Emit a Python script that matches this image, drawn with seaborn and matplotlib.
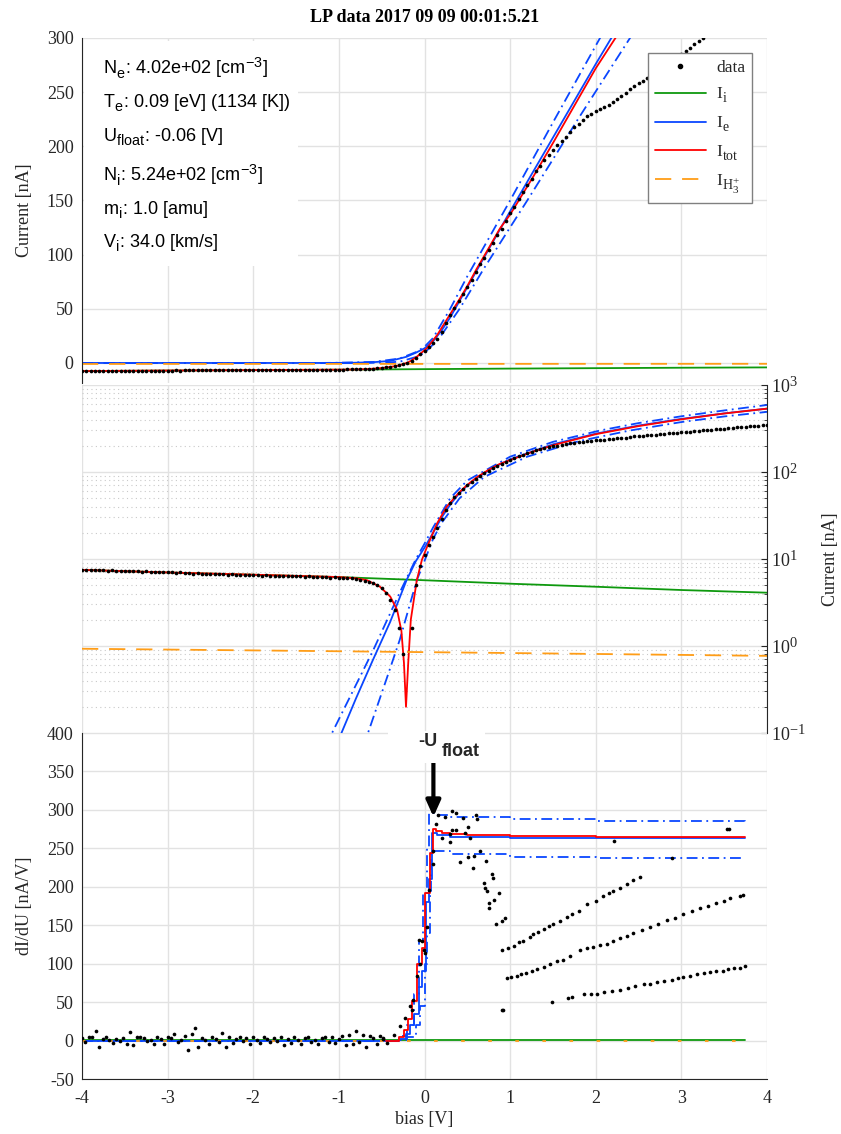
import numpy as np
import matplotlib
matplotlib.use("Agg")
import matplotlib.pyplot as plt
import matplotlib._mathtext as _mt
from matplotlib.lines import Line2D
from matplotlib.patches import Rectangle
from matplotlib.ticker import LogLocator, NullFormatter, MultipleLocator
import seaborn as sns

# ==========================================
# DATA (dibaca dari gambar LP)
# ==========================================
TITLE = "LP data 2017 09 09 00:01:5.21"

# sweep probe: bias [V] dan arus [nA]
DATA_BIAS = np.round(np.arange(161) * 0.05 - 4.0, 2)
DATA_CURRENT = [
    -7.5, -7.5, -7.4, -7.5, -7.4, -7.4, -7.3, -7.4, -7.3, -7.3,
    -7.2, -7.3, -7.2, -7.2, -7.1, -7.2, -7.1, -7.1, -7.0, -7.1,
    -7.0, -7.0, -6.9, -7.0, -6.9, -6.9, -6.8, -6.9, -6.8, -6.8,
    -6.7, -6.8, -6.7, -6.7, -6.6, -6.7, -6.6, -6.6, -6.5, -6.6,
    -6.5, -6.5, -6.4, -6.5, -6.4, -6.4, -6.3, -6.4, -6.3, -6.3,
    -6.3, -6.3, -6.2, -6.3, -6.2, -6.2, -6.2, -6.2, -6.1, -6.2,
    -6.1, -6.1, -6.0, -6.0, -5.9, -5.8, -5.6, -5.5, -5.3, -5.0,
    -4.6, -4.1, -3.4, -2.6, -1.6, -0.8, 0.05, 1.6, 5.0, 8.3,
    11.2, 14.5, 18.0, 22.5, 29, 37, 44, 51, 57, 64,
    70, 77, 84, 91, 97, 104, 111, 118, 124, 131,
    138, 144, 151, 158, 164, 170, 177, 182, 187, 192,
    197, 201, 205, 209, 213, 218, 221, 224, 228, 230,
    233, 234, 236, 238, 241, 244, 246, 249, 253, 256,
    258, 260, 263, 265, 269, 272, 275, 278, 280, 283,
    285, 288, 291, 294, 297, 300, 303, 306, 309, 313,
    316, 319, 322, 325, 328, 332, 335, 338, 341, 344,
    347,
]

# komponen fit [nA]
ION_BIAS = [-4, -3, -2, -1, 0, 1, 2, 3, 4]
ION_CURRENT = [-7.5, -7.0, -6.6, -6.2, -5.7, -5.2, -4.8, -4.4, -4.1]
H3_CURRENT = [-0.93, -0.91, -0.89, -0.87, -0.85, -0.83, -0.81, -0.79, -0.77]

IE_BIAS = [-4.0, -1.3, -1.1, -0.97, -0.8, -0.6, -0.4, -0.21, -0.1, 0.0, 0.1, 0.2,
           0.3, 0.4, 0.5, 0.6, 0.8, 1.0, 1.5, 2.0, 2.5, 3.0, 3.5, 4.0]
IE_CURRENT = [0.0, 0.005, 0.04, 0.1, 0.25, 0.7, 1.9, 5.7, 9.5, 13.5, 20, 30,
              42, 56, 70, 84, 112, 140, 208, 276, 342, 408, 472, 535]

IE_HI_BIAS = [-4.0, -1.3, -1.08, -0.6, -0.29, -0.1, 0.0, 0.1, 0.3, 0.5, 1.0,
              1.5, 2.05, 2.5, 3.0, 3.5, 4.0]
IE_HI_CURRENT = [0.0, 0.02, 0.1, 0.89, 4.1, 10, 15, 23, 50, 80, 150,
                 222, 300, 365, 437, 510, 589]

IE_LO_BIAS = [-4.0, -0.9, -0.66, -0.45, -0.29, -0.09, 0.0, 0.1, 0.2, 0.41, 0.7,
              1.2, 1.8, 2.4, 3.0, 3.5, 4.0]
IE_LO_CURRENT = [0.0, 0.01, 0.1, 0.4, 1.17, 5.7, 9.5, 17, 26, 50, 88,
                 150, 226, 300, 375, 435, 491]

ITOT_BIAS = [-4.0, -3.0, -2.0, -1.0, -0.8, -0.67, -0.52, -0.4, -0.32, -0.27,
             -0.24, -0.216, -0.19, -0.16, -0.09, -0.03, 0.03, 0.15, 0.26, 0.41,
             0.5, 0.61, 0.75, 0.88, 1.0, 1.27, 1.5, 2.0, 2.23, 2.5, 3.0, 3.5, 4.0]
ITOT_CURRENT = [-7.5, -7.0, -6.6, -6.2, -6.0, -5.7, -4.8, -3.7, -2.6, -1.5,
                -0.64, -0.2, 0.64, 2.0, 5.7, 9.8, 13.8, 26, 40, 59,
                71, 87, 106, 124, 137, 172, 203, 272, 300, 337, 403, 470, 535]

# turunan dI/dU [nA/V]
DIDU_FLAT_BIAS = np.round(np.arange(90) * 0.04 - 4.0, 2)
DIDU_FLAT = [
    3, -2, 5, 4, 12, -9, 2, 4, 1, -3,
    2, 0, 3, -5, 11, -6, 5, 4, 3, -1,
    1, -4, 4, 2, -5, 5, 3, 8, -2, 1,
    6, -12, 8, 16, -9, 3, 1, -4, 5, 2,
    -2, 10, -8, 4, -3, 2, 5, -1, 3, -4,
    4, 1, -3, 5, 2, -2, 3, 0, 4, -6,
    2, -3, 5, 1, -4, 3, 4, -2, 1, -5,
    3, 5, -2, 4, -3, 2, 6, -6, 7, -4,
    12, -2, 7, -8, 6, 3, -5, 6, 2, -3,
]
DIDU_BIAS = [
    -0.48, -0.36, -0.29, -0.23, -0.17, -0.15, -0.13, -0.09, -0.07, -0.05, -0.03, -0.01,
    0.01, 0.03, 0.05, 0.10, 0.10,
    0.13, 0.16, 0.20, 0.24, 0.30, 0.30, 0.32, 0.32, 0.37, 0.37, 0.42, 0.45, 0.47, 0.51,
    0.51, 0.53, 0.57, 0.58, 0.60, 0.61, 0.65, 0.69, 0.71, 0.72, 0.73, 0.75, 0.75, 0.79,
    0.80, 0.81, 0.84, 0.87, 0.90, 0.90, 0.92, 0.94,
    0.91, 0.98, 1.04, 1.10, 1.15, 1.23, 1.27, 1.33, 1.39, 1.45, 1.50, 1.58, 1.66, 1.72,
    1.80, 1.90, 2.00, 2.08, 2.15, 2.20, 2.28, 2.36, 2.44, 2.52,
    0.96, 1.01, 1.08, 1.13, 1.19, 1.25, 1.31, 1.39, 1.47, 1.55, 1.62, 1.70, 1.82, 1.90,
    1.97, 2.05, 2.13, 2.20, 2.28, 2.36, 2.44, 2.54, 2.63, 2.73, 2.83, 2.92, 3.02, 3.12,
    3.22, 3.31, 3.41, 3.50, 3.57, 3.68, 3.72,
    1.49, 1.68, 1.72, 1.86, 1.94, 2.01, 2.10, 2.19, 2.28, 2.38, 2.46, 2.56, 2.63, 2.71,
    2.80, 2.89, 2.96, 3.02, 3.10, 3.18, 3.26, 3.33, 3.41, 3.49, 3.55, 3.61, 3.68, 3.74,
    2.21, 2.89, 3.53, 3.56,
]
DIDU_VALUE = [
    3.5, 7.8, 18.6, 29, 45, 40, 53, 84, 131, 100, 129, 118,
    114, 148, 196, 229, 246,
    281, 294, 263, 291, 268, 258, 299, 274, 296, 274, 232, 290, 270, 278,
    239, 263, 224, 240, 294, 288, 246, 205, 199, 233, 194, 179, 172, 217,
    212, 183, 151, 192, 155, 40, 40, 159,
    118, 121, 123, 128, 130, 135, 138, 141, 145, 149, 152, 156, 161, 164,
    169, 178, 182, 188, 192, 194, 199, 204, 209, 213,
    82, 83, 84, 86, 88, 90, 93, 96, 100, 103, 105, 110, 118, 120,
    122, 124, 126, 129, 133, 136, 140, 144, 148, 152, 157, 160, 164, 168,
    172, 175, 179, 182, 186, 188, 189,
    50, 55, 56, 60, 61, 61, 63, 65, 66, 68, 71, 73, 74, 76,
    78, 79, 81, 83, 84, 86, 88, 89, 90, 91, 93, 94, 95, 97,
    260, 238, 275, 275,
]

DTOT_BIAS = [-0.45, -0.30, -0.24, -0.19, -0.15, -0.09, -0.03, 0.01, 0.06,
             0.10, 0.13, 0.2, 0.3, 0.5, 1.0, 2.0, 3.74]
DTOT_VALUE = [0, 5, 14, 28, 52, 99, 120, 192, 244,
              275, 272, 270, 269, 267, 266, 265, 265]
DE_BIAS = [-4.0, -0.45, -0.30, -0.22, -0.17, -0.12, -0.07, -0.03, 0.02, 0.05,
           0.09, 0.15, 0.3, 1.0, 3.74]
DE_VALUE = [0, 0, 2, 8, 20, 35, 70, 90, 180, 210,
            270, 267, 265, 264, 264]
DE_HI_BIAS = [-4.0, -0.45, -0.3, -0.2, -0.12, -0.06, -0.02, 0.03, 0.05, 0.15,
              0.3, 1.0, 2.0, 3.74]
DE_HI_VALUE = [0, 0, 6, 20, 60, 130, 190, 250, 296, 294,
               291, 288, 286, 284]
DE_LO_BIAS = [-4.0, -0.45, -0.3, -0.2, -0.1, -0.05, 0.0, 0.03, 0.06, 0.08, 0.15,
              0.3, 1.0, 2.0, 3.74]
DE_LO_VALUE = [0, 0, 1, 5, 20, 45, 100, 140, 190, 247, 246,
               243, 239, 238, 238]
DFLAT_BIAS = [-4.0, 3.74]
DION_VALUE = [0.3, 0.3]
DH3_VALUE = [0.0, 0.0]

U_FLOAT_MARK = 0.104   # posisi panah -U_float
ARROW_FROM, ARROW_TO = 361, 291

INFO_LINES = [
    r"N$_\mathregular{e}$: 4.02e+02 [cm$^\mathregular{-3}$]",
    r"T$_\mathregular{e}$: 0.09 [eV] (1134 [K])",
    r"U$_\mathregular{float}$: -0.06 [V]",
    r"N$_\mathregular{i}$: 5.24e+02 [cm$^\mathregular{-3}$]",
    r"m$_\mathregular{i}$: 1.0 [amu]",
    r"V$_\mathregular{i}$: 34.0 [km/s]",
]
INFO_BASELINES = [75, 108, 142, 182, 215, 248]

# ==========================================
# STYLE
# ==========================================
sns.set_style("white")
plt.rcParams["font.family"] = ["Liberation Serif", "DejaVu Serif"]
plt.rcParams["mathtext.fontset"] = "stix"
plt.rcParams["axes.unicode_minus"] = False
# subscript ala MATLAB: lebih besar & lebih turun
_mt.SHRINK_FACTOR = 0.8
_mt.FontConstantsBase.sub1 = 0.55
_mt.FontConstantsBase.sub2 = 0.65

C_GREEN = "#0e990e"
C_BLUE = "#0a46ff"
C_RED = "#ff0000"
C_ORANGE = "#ff9d17"
C_GRID = "#e2e2e2"
C_AX = "#262626"
DASHDOT = (0, (6, 2.5, 1, 2.5))
DASHED = (0, (9, 6))
FS = 13

W_PX, H_PX = 841, 1134


def draw_line(ax, x, y, color, ls="-", lw=1.3, z=2, **kw):
    sns.lineplot(x=np.asarray(x, float), y=np.asarray(y, float), ax=ax, color=color,
                 linestyle=ls, linewidth=lw, zorder=z, estimator=None, sort=False,
                 legend=False, **kw)


def draw_dots(ax, x, y):
    sns.scatterplot(x=np.asarray(x, float), y=np.asarray(y, float), ax=ax, color="k",
                    s=7, linewidth=0, zorder=4, legend=False)


def fig_box(fig, x0, y0, x1, y1):
    fig.add_artist(Rectangle((x0 / W_PX, 1 - y1 / H_PX), (x1 - x0) / W_PX, (y1 - y0) / H_PX,
                             transform=fig.transFigure, facecolor="white",
                             edgecolor="none", zorder=2))


fig = plt.figure(figsize=(W_PX / 100, H_PX / 100), dpi=100)
L, W = 82 / W_PX, 685 / W_PX
ax_top = fig.add_axes([L, 1 - 383 / H_PX, W, 345 / H_PX])
ax_mid = fig.add_axes([L, 1 - 733 / H_PX, W, 348 / H_PX])
ax_bot = fig.add_axes([L, 1 - 1079 / H_PX, W, 346 / H_PX])

# ---- panel 1: arus linear ----
draw_line(ax_top, ION_BIAS, ION_CURRENT, C_GREEN, z=2.0)
draw_line(ax_top, IE_HI_BIAS, IE_HI_CURRENT, C_BLUE, ls=DASHDOT, z=2.1)
draw_line(ax_top, IE_LO_BIAS, IE_LO_CURRENT, C_BLUE, ls=DASHDOT, z=2.1)
draw_line(ax_top, IE_BIAS, IE_CURRENT, C_BLUE, z=2.2)
draw_line(ax_top, ITOT_BIAS, ITOT_CURRENT, C_RED, z=2.3)
draw_line(ax_top, ION_BIAS, H3_CURRENT, C_ORANGE, ls=DASHED, z=2.4)
draw_dots(ax_top, DATA_BIAS, DATA_CURRENT)
ax_top.set_ylim(-18.5, 300)
ax_top.set_yticks(np.arange(0, 301, 50))
ax_top.set_ylabel("Current [nA]", fontsize=FS, color=C_AX)
ax_top.yaxis.set_label_coords(-0.0715, 0.5)

# ---- panel 2: |arus| log ----
draw_line(ax_mid, ION_BIAS, np.abs(ION_CURRENT), C_GREEN, z=2.0)
draw_line(ax_mid, IE_HI_BIAS, IE_HI_CURRENT, C_BLUE, ls=DASHDOT, z=2.1)
draw_line(ax_mid, IE_LO_BIAS, IE_LO_CURRENT, C_BLUE, ls=DASHDOT, z=2.1)
draw_line(ax_mid, IE_BIAS, IE_CURRENT, C_BLUE, z=2.2)
draw_line(ax_mid, ITOT_BIAS, np.abs(ITOT_CURRENT), C_RED, z=2.3)
draw_line(ax_mid, ION_BIAS, np.abs(H3_CURRENT), C_ORANGE, ls=DASHED, z=2.4)
draw_dots(ax_mid, DATA_BIAS, np.abs(DATA_CURRENT))
ax_mid.set_yscale("log")
ax_mid.set_ylim(0.1, 1000)
ax_mid.yaxis.set_major_locator(LogLocator(base=10, numticks=10))
ax_mid.yaxis.set_minor_locator(LogLocator(base=10, subs=np.arange(2, 10), numticks=20))
ax_mid.yaxis.set_minor_formatter(NullFormatter())
ax_mid.yaxis.tick_right()
ax_mid.yaxis.set_label_position("right")
ax_mid.set_ylabel("Current [nA]", fontsize=FS, color=C_AX)
ax_mid.yaxis.set_label_coords(1.080, 0.5)
ax_mid.grid(True, which="minor", axis="y", color="#c9c9c9", lw=0.8, ls=(0, (1, 3)))

# ---- panel 3: dI/dU ----
draw_line(ax_bot, DFLAT_BIAS, DION_VALUE, C_GREEN, z=2.0)
draw_line(ax_bot, DE_HI_BIAS, DE_HI_VALUE, C_BLUE, ls=DASHDOT, z=2.1, drawstyle="steps-post")
draw_line(ax_bot, DE_LO_BIAS, DE_LO_VALUE, C_BLUE, ls=DASHDOT, z=2.1, drawstyle="steps-post")
draw_line(ax_bot, DE_BIAS, DE_VALUE, C_BLUE, z=2.2, drawstyle="steps-post")
draw_line(ax_bot, DFLAT_BIAS, DH3_VALUE, C_ORANGE, ls=(0, (2, 13)), z=2.25)
draw_line(ax_bot, DTOT_BIAS, DTOT_VALUE, C_RED, z=2.3, drawstyle="steps-post")
draw_dots(ax_bot, np.concatenate([DIDU_FLAT_BIAS, DIDU_BIAS]),
          np.concatenate([DIDU_FLAT, DIDU_VALUE]))
ax_bot.set_ylim(-50, 400)
ax_bot.set_yticks(np.arange(-50, 401, 50))
ax_bot.set_ylabel("dI/dU [nA/V]", fontsize=FS, color=C_AX)
ax_bot.yaxis.set_label_coords(-0.0715, 0.5)
ax_bot.set_xlabel("bias [V]", fontsize=FS, color=C_AX, labelpad=3)
ax_bot.annotate("", xy=(U_FLOAT_MARK, ARROW_TO), xytext=(U_FLOAT_MARK, ARROW_FROM),
                arrowprops=dict(arrowstyle="-|>,head_width=0.36,head_length=0.8",
                                color="k", lw=3, shrinkA=0, shrinkB=0,
                                mutation_scale=12),
                annotation_clip=False, zorder=5)

# ---- sumbu bersama ----
for ax in (ax_top, ax_mid, ax_bot):
    ax.set_xlim(-4, 4)
    ax.xaxis.set_major_locator(MultipleLocator(1))
    ax.set_facecolor("none")
    ax.set_axisbelow(True)
    ax.grid(True, which="major", color=C_GRID, lw=1.0)
    for s in ax.spines.values():
        s.set_visible(False)
        s.set_color(C_AX)
    ax.tick_params(which="both", direction="in", colors=C_AX, labelsize=FS)
    ax.tick_params(which="major", length=4, width=0.8)
    ax.tick_params(which="minor", length=2.5, width=0.6)

ax_top.spines["left"].set_visible(True)
ax_top.tick_params(axis="x", labelbottom=False)
ax_top.tick_params(axis="y", pad=6)
ax_mid.spines["right"].set_visible(True)
ax_mid.tick_params(axis="x", labelbottom=False, length=7)
ax_mid.tick_params(axis="y", which="both", left=False, right=True, pad=3)
ax_bot.spines["left"].set_visible(True)
ax_bot.spines["bottom"].set_visible(True)
ax_bot.tick_params(axis="x", pad=8)
ax_bot.tick_params(axis="y", pad=6)

# ---- legenda ----
handles = [
    Line2D([], [], ls="none", marker=".", color="k", ms=6),
    Line2D([], [], color=C_GREEN, lw=1.3),
    Line2D([], [], color=C_BLUE, lw=1.3),
    Line2D([], [], color=C_RED, lw=1.3),
    Line2D([], [], color=C_ORANGE, lw=1.3, ls=DASHED),
]
labels = ["data", r"I$_\mathregular{i}$", r"I$_\mathregular{e}$", r"I$_\mathregular{tot}$",
          r"I$_{\mathregular{H}_\mathregular{3}^\mathregular{+}}$"]
leg = ax_top.legend(handles, labels, loc="upper right",
                    bbox_to_anchor=(752 / W_PX, 1 - 53 / H_PX), bbox_transform=fig.transFigure,
                    frameon=True, fancybox=False, edgecolor="#808080", framealpha=1,
                    fontsize=12.5, handlelength=2.9, handletextpad=0.6, borderpad=0.4,
                    labelspacing=0.55, borderaxespad=0, numpoints=1)
leg.get_frame().set_linewidth(1.0)
leg.set_zorder(6)

# ---- kotak info & teks ----
fig_box(fig, 84, 41, 298, 266)
for txt, yb in zip(INFO_LINES, INFO_BASELINES):
    fig.text(103 / W_PX, 1 - yb / H_PX, txt, fontsize=13, family="Liberation Sans",
             color="k", va="baseline", ha="left", zorder=3)

fig_box(fig, 388, 731, 485, 763)
fig.text(418 / W_PX, 1 - 746 / H_PX, "-U", fontsize=13, family="Liberation Sans",
         weight="bold", va="baseline", ha="left", zorder=3)
fig.text(442 / W_PX, 1 - 756 / H_PX, "float", fontsize=13, family="Liberation Sans",
         weight="bold", va="baseline", ha="left", zorder=3)

fig.text(424.5 / W_PX, 1 - 17 / H_PX, TITLE, fontsize=FS, weight="bold",
         ha="center", va="center", color="k")

fig.savefig("out.png", dpi=100)
